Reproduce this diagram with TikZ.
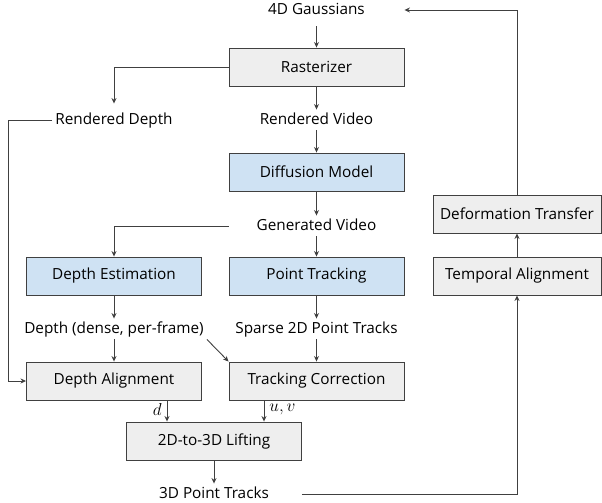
\documentclass[tikz,border=0pt]{standalone}
\usepackage{fontspec}
\setmainfont{Open Sans}
\usepackage{tikz}
\usetikzlibrary{arrows.meta}
\definecolor{boxGray}{RGB}{238,238,238}
\definecolor{boxBlue}{RGB}{207,226,243}
\definecolor{lineGray}{RGB}{64,64,64}
\tikzset{
    >={Stealth[length=5.5pt,width=5pt]},
    block/.style={rectangle,draw=lineGray,line width=0.9pt,fill=#1,minimum width=175pt,minimum height=38pt,inner sep=0pt},
    block/.default=boxGray,
    signal/.style={inner sep=3pt,text height=11.5pt,text depth=3pt},
    varname/.style={font=\fontsize{18}{20}\selectfont,inner sep=2pt},
    flow/.style={->,draw=lineGray,line width=0.9pt}
}

\begin{document}
\begin{tikzpicture}[x=1pt,y=-1pt,font=\fontsize{15.3}{18}\selectfont]
  \useasboundingbox (0,0) rectangle (602,503);

  \node[signal] (gauss) at (316.5,10) {4D Gaussians};
  \node[block] (rast) at (316.5,67) {Rasterizer};
  \node[signal] (rdepth) at (114,120) {Rendered Depth};
  \node[signal] (rvideo) at (316.5,120) {Rendered Video};
  \node[block=boxBlue] (diff) at (316.5,172) {Diffusion Model};
  \node[signal] (gvideo) at (316.5,226) {Generated Video};
  \node[block=boxBlue] (dest) at (114,276) {Depth Estimation};
  \node[block=boxBlue] (ptrack) at (316.5,276) {Point Tracking};
  \node[signal] (dtext) at (114,329) {Depth (dense, per-frame)};
  \node[signal] (stext) at (316.5,329) {Sparse 2D Point Tracks};
  \node[block] (dalign) at (114,381) {Depth Alignment};
  \node[block] (tcorr) at (316.5,381) {Tracking Correction};
  \node[block] (lift) at (214,441) {2D-to-3D Lifting};
  \node[signal] (ptext) at (214,494) {3D Point Tracks};
  \node[block,minimum width=168pt] (deform) at (517,214) {Deformation Transfer};
  \node[block,minimum width=168pt] (talign) at (517,276) {Temporal Alignment};

  \coordinate (lbus) at (8,120);
  \coordinate (din) at ([xshift=-47pt]lift.north);
  \coordinate (uvin) at ([xshift=50pt]lift.north);

  \draw[flow,shorten <=6pt] (gauss.south) -- (rast.north);
  \draw[flow,shorten >=6pt] (rast.west) -| (rdepth.north);
  \draw[flow] (rdepth.west) -- (lbus) |- (dalign.west);
  \draw[flow] (rast) -- (rvideo);
  \draw[flow] (rvideo) -- (diff);
  \draw[flow] (diff) -- (gvideo);
  \draw[flow] (gvideo.west -| diff.west) -| (dest.north);
  \draw[flow] (gvideo) -- (ptrack);
  \draw[flow] (dest) -- (dtext);
  \draw[flow] (ptrack) -- (stext);
  \draw[flow] (dtext) -- (dalign);
  \draw[flow] (stext) -- (tcorr);
  \draw[flow] (dtext.south east) -- (tcorr.north west);
  \draw[flow] (din |- dalign.south) -- (din) node[varname,midway,left,xshift=-3pt,yshift=2pt] {$d$};
  \draw[flow] (uvin |- tcorr.south) -- (uvin) node[varname,midway,right,xshift=3pt,yshift=2pt] {$u,v$};
  \draw[flow] (lift) -- (ptext);
  \draw[flow] (ptext.east -| lift.east) -| (talign.south);
  \draw[flow] (talign) -- (deform);
  \draw[flow] (deform.north) |- (gauss.east -| rast.east);
\end{tikzpicture}
\end{document}
